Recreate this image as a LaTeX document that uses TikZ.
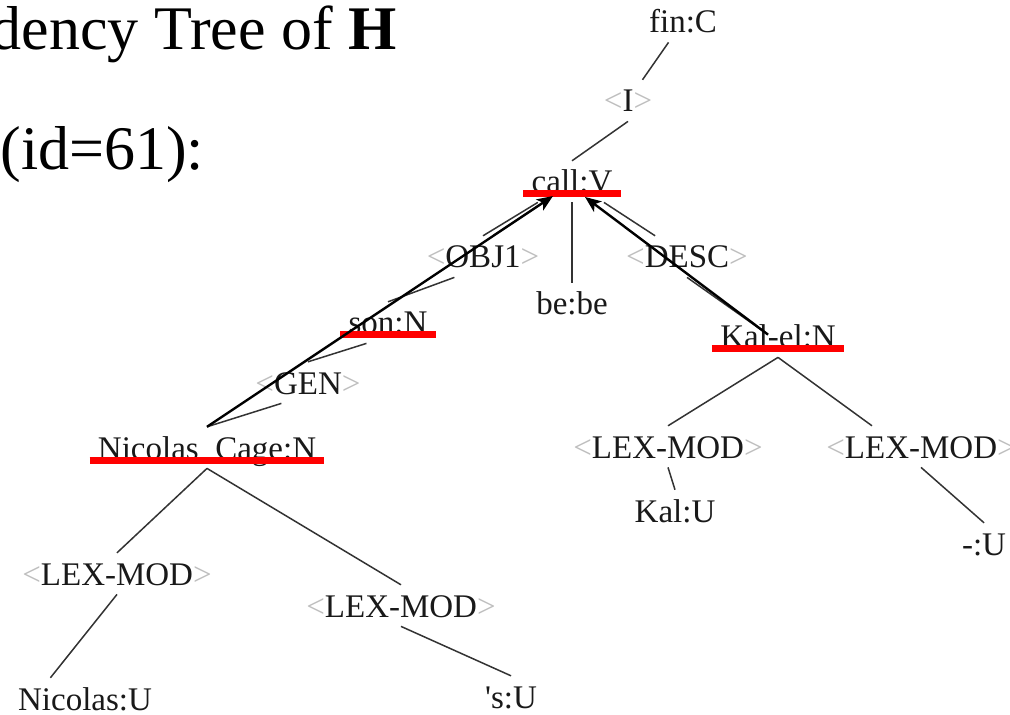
\documentclass[tikz,border=0pt]{standalone}
\usepackage{fontspec}
\setmainfont{Liberation Serif}
\usetikzlibrary{arrows.meta,calc}
\definecolor{barRed}{RGB}{255,0,0}
\definecolor{relGrey}{RGB}{190,190,190}
\definecolor{wordGrey}{RGB}{25,25,25}
\newcommand{\deprel}[1]{{\color{relGrey}<}#1{\color{relGrey}>}}

\begin{document}
\begin{tikzpicture}[x=0.5pt, y=-0.5pt,
    word/.style={anchor=base, text=wordGrey, font=\fontsize{16.5pt}{19pt}\selectfont,
      inner xsep=4pt, inner ysep=4.5pt, text height=11.4pt, text depth=0pt},
    title/.style={inner sep=0pt, font=\fontsize{31pt}{37pt}\selectfont},
    treeline/.style={draw=black!80, line width=0.75pt},
    redbar/.style={draw=barRed, line width=3.5pt},
    headarrow/.style={draw=black, line width=1.2pt, -{Stealth[length=8pt,width=6.5pt,inset=2pt]}}]
      \useasboundingbox (0,0) rectangle (1010,715);

      % Slide title
      \node[title, anchor=base east] (headline) at (397,50) {dency Tree of \textbf{H}};
      \node[title, anchor=base west] (treeid) at (0,170) {(id=61):};

      % Upper tree
      \node[word] (fin) at (683,33) {fin:C};
      \node[word] (irel) at (628,112) {\deprel{I}};
      \node[word] (call) at (572,193) {call:V};
      \node[word] (obj) at (483,268) {\deprel{OBJ1}};
      \node[word] (bebe) at (572,315) {be:be};
      \node[word] (desc) at (687,268) {\deprel{DESC}};
      \node[word] (son) at (388,334) {son:N};
      \node[word] (gen) at (308,394) {\deprel{GEN}};
      \node[word] (nc) at (207,459) {Nicolas\_Cage:N};
      \node[word] (kal) at (778,348) {Kal-el:N};

      % Nicolas_Cage subtree
      \node[word] (nclexl) at (117,585) {\deprel{LEX-MOD}};
      \node[word] (nclexr) at (401,617) {\deprel{LEX-MOD}};
      \node[word] (nicu) at (85,710) {Nicolas:U};
      \node[word] (su) at (511,708) {\textquotesingle s:U};

      % Kal-el subtree
      \node[word] (kallexl) at (668,458) {\deprel{LEX-MOD}};
      \node[word] (kallexr) at (921,458) {\deprel{LEX-MOD}};
      \node[word] (kalu) at (675,522) {Kal:U};
      \node[word] (dashu) at (984,555) {-:U};

      % Arrow ends
      \coordinate (calltipl) at ($(call.base)+(-19,3)$);
      \coordinate (calltipr) at ($(call.base)+(13,4)$);
      \coordinate (kaltail) at ($(kal.center)+(-10,-2)$);

      % Tree edges
      \draw[treeline] (fin) -- (irel);
      \draw[treeline] (irel.south) -- (call.north);
      \draw[treeline] (call) -- (obj.north);
      \draw[treeline] (call) -- (bebe);
      \draw[treeline] (call) -- (desc);
      \draw[treeline] (obj.216) -- (son.north);
      \draw[treeline] (son.224) -- (gen.north);
      \draw[treeline] (gen.218) -- (nc.north);
      \draw[treeline] (desc.south) -- (kaltail);
      \draw[treeline] (nc.south) -- (nclexl.north);
      \draw[treeline] (nc.south) -- (nclexr.north);
      \draw[treeline] (nclexl.south) -- (nicu.149);
      \draw[treeline] (nclexr.south) -- (su.north);
      \draw[treeline] (kal.south) -- (kallexl.north);
      \draw[treeline] (kal.south) -- (kallexr.157);
      \draw[treeline] (kallexl.south) -- (kalu.north);
      \draw[treeline] (kallexr.south) -- (dashu.north);

      % Red underlines
      \draw[redbar] ([yshift=-0.5pt]call.base west) -- ([yshift=-0.5pt]call.base east);
      \draw[redbar] ([yshift=-0.5pt]son.base west) -- ([yshift=-0.5pt]son.base east);
      \draw[redbar] ([yshift=-0.5pt]nc.base west) -- ([yshift=-0.5pt]nc.base east);
      \draw[redbar] ([yshift=-0.5pt]kal.base west) -- ([yshift=-0.5pt]kal.base east);

      % Black arrows
      \draw[headarrow] (nc.north) -- (calltipl);
      \draw[headarrow] (kaltail) -- (calltipr);
    \end{tikzpicture}
\end{document}
